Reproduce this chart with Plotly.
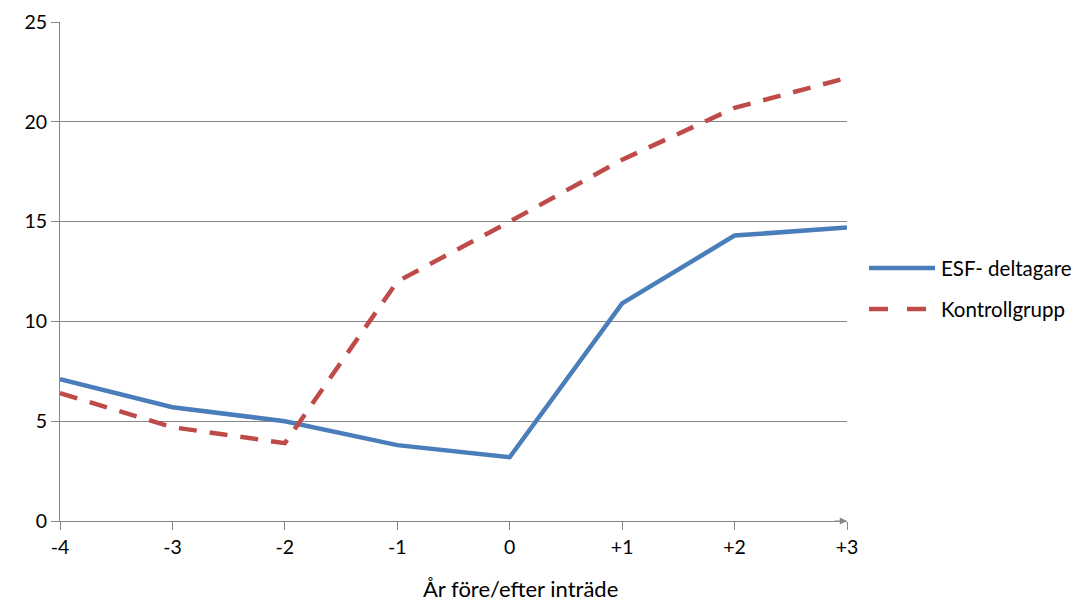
import plotly.graph_objects as go

categories = ["-4", "-3", "-2", "-1", "0", "+1", "+2", "+3"]
esf = [7.1, 5.7, 5.0, 3.8, 3.2, 10.9, 14.3, 14.7]
kontroll = [6.4, 4.7, 3.9, 12.0, 15.0, 18.1, 20.7, 22.2]
y_ticks = [0, 5, 10, 15, 20, 25]
series_names = ["ESF- deltagare", "Kontrollgrupp"]

FONT = "Lato, Open Sans, sans-serif"
GRID = "#878787"
BLUE = "#4A7EBB"
RED = "#BE4B48"
DASH = "18px,13px"

# page body has an 8px margin; compensate so the plot lands where the reference has it
OFF = 8
W, H = 1085 - OFF, 601 - OFF
PLOT_X0, PLOT_X1, PLOT_Y0, PLOT_Y1 = 60, 847, 22, 521  # reference pixels
L = PLOT_X0 - OFF
T = PLOT_Y0 - OFF
PW = PLOT_X1 - PLOT_X0
PH = PLOT_Y1 - PLOT_Y0
R = W - L - PW
B = H - T - PH


def px2x(px):
    return (px - PLOT_X0) / PW


def px2y(py):
    return (PLOT_Y1 - py) / PH


fig = go.Figure()
fig.add_trace(go.Scatter(x=categories, y=esf, mode="lines", name=series_names[0],
                         line=dict(color=BLUE, width=4.5)))
fig.add_trace(go.Scatter(x=categories, y=kontroll, mode="lines", name=series_names[1],
                         line=dict(color=RED, width=4.5, dash=DASH)))

fig.update_layout(
    width=W, height=H,
    margin=dict(l=L, r=R, t=T, b=B),
    paper_bgcolor="white", plot_bgcolor="white",
    font=dict(family=FONT, size=19, color="#000000"),
    showlegend=False,
    xaxis=dict(
        type="category", range=[0, 7], automargin=False,
        showline=True, linecolor=GRID, linewidth=1.2,
        ticks="outside", ticklen=8, tickcolor=GRID,
        showgrid=False, zeroline=False,
        tickfont=dict(size=19.5),
    ),
    yaxis=dict(
        range=[0, 25], tickvals=y_ticks, automargin=False,
        showline=True, linecolor=GRID, linewidth=1.2,
        ticks="outside", ticklen=8, tickcolor=GRID,
        showgrid=True, gridcolor=GRID, gridwidth=1.2,
        zeroline=False, tickfont=dict(size=19.5),
    ),
)

# x-axis title
fig.add_annotation(xref="paper", yref="paper", x=px2x(520), y=px2y(588),
                   text="År före/efter inträde",
                   showarrow=False, font=dict(size=22), xanchor="center", yanchor="middle")

# arrow at end of x axis
fig.add_annotation(xref="paper", yref="paper", x=1.0, y=0, ax=-14, ay=0,
                   showarrow=True, arrowhead=2, arrowsize=1.2, arrowwidth=1.2,
                   arrowcolor=GRID, text="")

# manual legend
legend_rows = [(268, BLUE, "solid", series_names[0]), (309, RED, "19px,19px", series_names[1])]
for py, col, dash, name in legend_rows:
    fig.add_shape(type="line", xref="paper", yref="paper",
                  x0=px2x(869), x1=px2x(935), y0=px2y(py), y1=px2y(py),
                  line=dict(color=col, width=4.5, dash=dash))
    fig.add_annotation(xref="paper", yref="paper", x=px2x(939), y=px2y(py), text=name,
                       showarrow=False, xanchor="left", yanchor="middle",
                       font=dict(size=20.5))

fig.write_html("out.html")
